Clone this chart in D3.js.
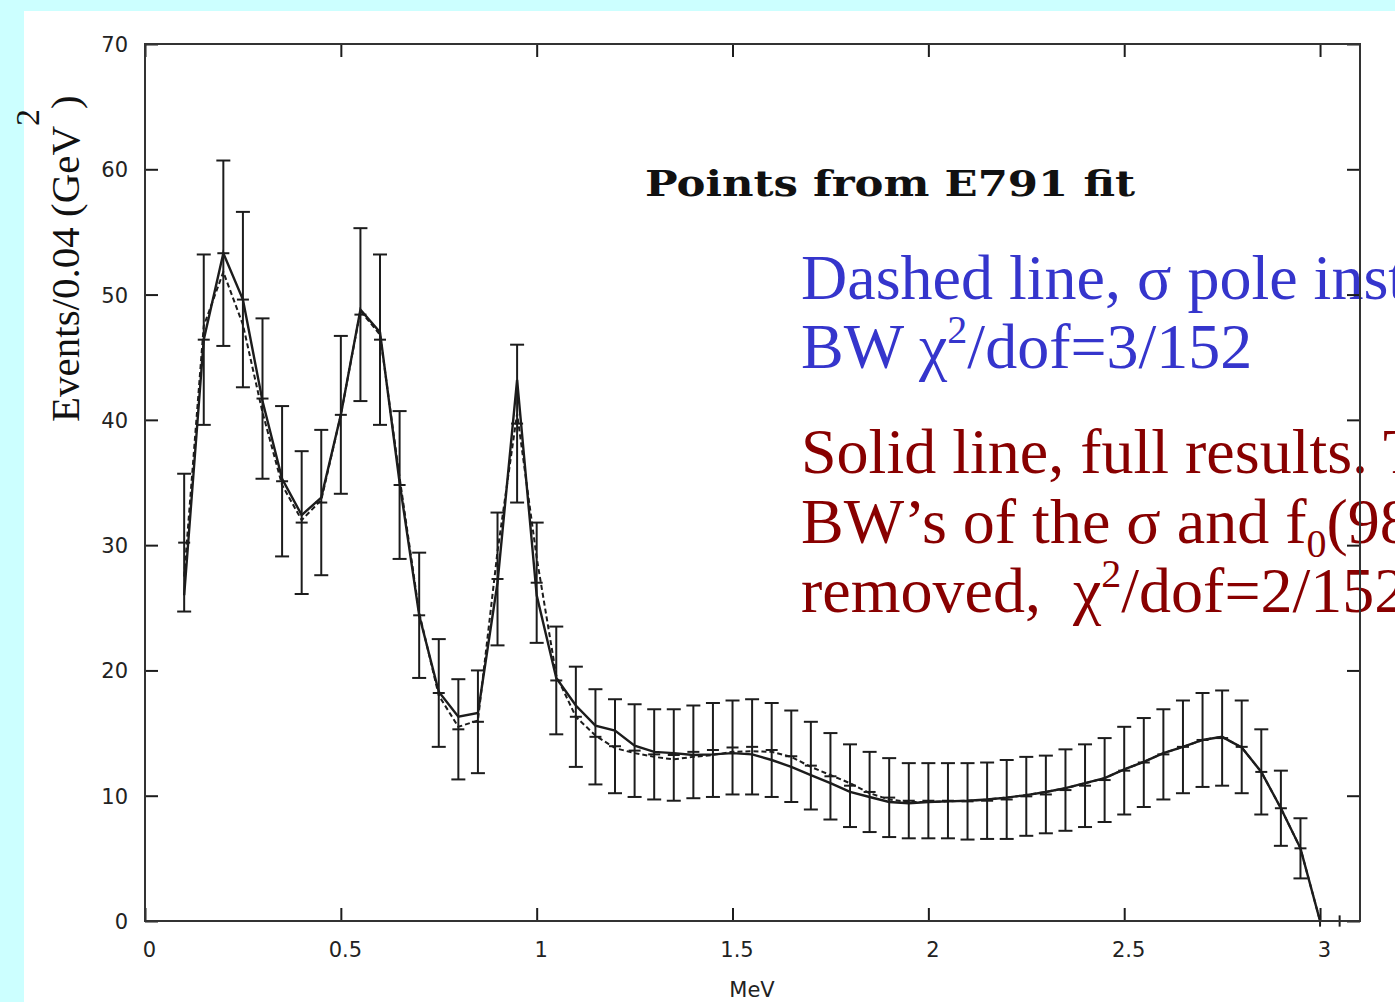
<!DOCTYPE html>
<html>
<head>
<meta charset="utf-8">
<script src="https://cdn.jsdelivr.net/npm/d3@7"></script>
<style>
  html, body { margin: 0; padding: 0; background: #ccffff; overflow: hidden; }
  svg { display: block; }
</style>
</head>
<body>
<svg id="chart" width="1395" height="1002"></svg>
<script>
// Bin centres (GeV^2 axis, labelled MeV on the slide)
const mass = [0.10, 0.15, 0.20, 0.25, 0.30, 0.35, 0.40, 0.45, 0.50, 0.55,
              0.60, 0.65, 0.70, 0.75, 0.80, 0.85, 0.90, 0.95, 1.00, 1.05,
              1.10, 1.15, 1.20, 1.25, 1.30, 1.35, 1.40, 1.45, 1.50, 1.55,
              1.60, 1.65, 1.70, 1.75, 1.80, 1.85, 1.90, 1.95, 2.00, 2.05,
              2.10, 2.15, 2.20, 2.25, 2.30, 2.35, 2.40, 2.45, 2.50, 2.55,
              2.60, 2.65, 2.70, 2.75, 2.80, 2.85, 2.90, 2.95, 3.00, 3.05];

// Generated points and their statistical errors
const events = [30.2, 46.4, 53.3, 49.6, 41.7, 35.1, 31.8, 33.4, 40.4, 48.4,
                46.4, 34.8, 24.4, 18.2, 15.3, 15.9, 27.3, 39.7, 27.0, 19.2,
                16.3, 14.7, 13.95, 13.6, 13.3, 13.25, 13.5, 13.65, 13.85, 13.9,
                13.65, 13.15, 12.4, 11.55, 10.8, 10.3, 9.85, 9.6, 9.6, 9.6,
                9.55, 9.6, 9.7, 9.95, 10.1, 10.45, 10.8, 11.25, 12.0, 12.65,
                13.3, 13.9, 14.45, 14.6, 13.9, 11.9, 9.0, 5.8, 0, 0];
const errors = [5.5, 6.8, 7.4, 7.0, 6.4, 6.0, 5.7, 5.8, 6.3, 6.9,
                6.8, 5.9, 5.0, 4.3, 4.0, 4.1, 5.3, 6.3, 4.8, 4.3,
                4.0, 3.8, 3.75, 3.7, 3.6, 3.65, 3.7, 3.75, 3.75, 3.8,
                3.75, 3.65, 3.5, 3.45, 3.3, 3.2, 3.15, 3.0, 3.0, 3.0,
                3.05, 3.05, 3.15, 3.15, 3.1, 3.25, 3.3, 3.35, 3.5, 3.55,
                3.6, 3.7, 3.75, 3.8, 3.7, 3.4, 3.0, 2.4, 0.45, 0.45];

// Fit curves, evaluated on the same bin centres up to 3.00
const curveMass = mass.slice(0, 59);
const solidFit = [26.0, 46.4, 53.3, 49.6, 41.5, 35.3, 32.4, 33.8, 40.4, 48.8,
                  47.0, 35.0, 24.4, 18.3, 16.3, 16.6, 27.0, 43.2, 26.0, 19.4,
                  17.2, 15.6, 15.2, 14.0, 13.5, 13.4, 13.25, 13.3, 13.4, 13.3,
                  12.85, 12.3, 11.65, 11.0, 10.3, 9.9, 9.5, 9.4, 9.5, 9.55,
                  9.6, 9.7, 9.85, 10.05, 10.3, 10.6, 11.0, 11.4, 12.1, 12.7,
                  13.4, 13.9, 14.45, 14.7, 13.85, 11.9, 9.0, 5.8, 0];
const dashedFit = [27.5, 47.5, 51.8, 47.6, 40.6, 34.8, 32.0, 33.6, 40.4, 48.7,
                   46.8, 35.4, 24.6, 18.0, 15.5, 16.0, 29.5, 40.5, 29.0, 19.6,
                   16.3, 14.8, 13.8, 13.4, 13.1, 12.9, 13.1, 13.25, 13.5, 13.55,
                   13.5, 13.1, 12.3, 11.65, 11.0, 10.2, 9.7, 9.5, 9.5, 9.55,
                   9.6, 9.7, 9.85, 10.05, 10.3, 10.6, 11.0, 11.4, 12.1, 12.7,
                   13.4, 13.9, 14.45, 14.7, 13.85, 11.9, 9.0, 5.8, 0];

// Axis ticks
const xTicks = [0, 0.5, 1, 1.5, 2, 2.5, 3];
const xTickLabels = ["0", "0.5", "1", "1.5", "2", "2.5", "3"];
const yTicks = [0, 10, 20, 30, 40, 50, 60, 70];

const svg = d3.select("#chart");

// slide background: cyan border, white page
svg.append("rect").attr("x", 0).attr("y", 0).attr("width", 1395).attr("height", 1002).attr("fill", "#ccffff");
svg.append("rect").attr("x", 24).attr("y", 11).attr("width", 1371).attr("height", 991).attr("fill", "#ffffff");

const plotL = 145, plotR = 1360, plotT = 44, plotB = 921;
const x = d3.scaleLinear().domain([0, 3.102]).range([plotL, plotR]);
const y = d3.scaleLinear().domain([0, 70]).range([plotB, plotT]);

const ink = "#1c1c1c";
const plot = svg.append("g");

// error bars with caps and a centre tick
const pts = mass.map((m, i) => ({ m, v: events[i], e: errors[i] }));
const capW = 7;
const eb = plot.append("g").attr("stroke", ink).attr("stroke-width", 2).attr("fill", "none");
pts.forEach(d => {
  const cx = x(d.m);
  eb.append("line").attr("x1", cx).attr("x2", cx).attr("y1", y(d.v - d.e)).attr("y2", y(d.v + d.e));
  if (d.e >= 1) {
    eb.append("line").attr("x1", cx - capW).attr("x2", cx + capW).attr("y1", y(d.v + d.e)).attr("y2", y(d.v + d.e));
    eb.append("line").attr("x1", cx - capW).attr("x2", cx + capW).attr("y1", y(d.v - d.e)).attr("y2", y(d.v - d.e));
    eb.append("line").attr("x1", cx - 6).attr("x2", cx + 6).attr("y1", y(d.v)).attr("y2", y(d.v));
  }
});

const line = d3.line().x(d => x(d[0])).y(d => y(d[1]));
plot.append("path")
  .datum(curveMass.map((m, i) => [m, dashedFit[i]]))
  .attr("d", line).attr("fill", "none").attr("stroke", ink)
  .attr("stroke-width", 2).attr("stroke-dasharray", "5,3");
plot.append("path")
  .datum(curveMass.map((m, i) => [m, solidFit[i]]))
  .attr("d", line).attr("fill", "none").attr("stroke", ink)
  .attr("stroke-width", 2.4);

// annotation texts
svg.append("text")
  .attr("x", 645).attr("y", 196)
  .attr("font-family", "DejaVu Serif").attr("font-weight", "bold").attr("font-size", 35)
  .attr("textLength", 490).attr("lengthAdjust", "spacingAndGlyphs")
  .attr("fill", "#111").text("Points from E791 fit");

const serif = "'Liberation Serif', 'Times New Roman', serif";
const blue = "#3535cc", red = "#880000";
const note = svg.append("g").attr("font-family", serif).attr("font-size", 64);

note.append("text").attr("x", 801).attr("y", 299).attr("fill", blue)
  .text("Dashed line, σ pole instead of");
const b2 = note.append("text").attr("x", 801).attr("y", 368).attr("fill", blue);
b2.append("tspan").text("BW χ");
b2.append("tspan").attr("dy", -25).attr("font-size", 40).text("2");
b2.append("tspan").attr("dy", 25).text("/dof=3/152");

note.append("text").attr("x", 801).attr("y", 473).attr("fill", red)
  .text("Solid line, full results. The");
const r2 = note.append("text").attr("x", 801).attr("y", 543).attr("fill", red);
r2.append("tspan").text("BW’s of the σ and f");
r2.append("tspan").attr("dy", 14).attr("font-size", 40).text("0");
r2.append("tspan").attr("dy", -14).text("(980)");
const r3 = note.append("text").attr("x", 801).attr("y", 612).attr("fill", red)
  .attr("xml:space", "preserve");
r3.append("tspan").text("removed,  χ");
r3.append("tspan").attr("dy", -25).attr("font-size", 40).text("2");
r3.append("tspan").attr("dy", 25).text("/dof=2/152");

// axes: ticks point inward on all four sides
const axisFont = "'DejaVu Sans', Verdana, sans-serif";
const gB = svg.append("g").attr("transform", `translate(0,${plotB})`)
  .call(d3.axisBottom(x).tickValues(xTicks).tickFormat((d, i) => xTickLabels[i])
        .tickSizeInner(-13).tickSizeOuter(0).tickPadding(21));
const gT = svg.append("g").attr("transform", `translate(0,${plotT})`)
  .call(d3.axisTop(x).tickValues(xTicks).tickFormat("").tickSizeInner(-13).tickSizeOuter(0));
const gL = svg.append("g").attr("transform", `translate(${plotL},0)`)
  .call(d3.axisLeft(y).tickValues(yTicks).tickSizeInner(-13).tickSizeOuter(0).tickPadding(17));
const gR = svg.append("g").attr("transform", `translate(${plotR},0)`)
  .call(d3.axisRight(y).tickValues(yTicks).tickFormat("").tickSizeInner(-13).tickSizeOuter(0));

[gB, gT, gL, gR].forEach(g => {
  g.select(".domain").remove();
  g.selectAll(".tick line").attr("stroke", ink).attr("stroke-width", 2);
  g.selectAll("text").attr("font-family", axisFont).attr("font-size", 21).attr("fill", "#222");
});
gB.selectAll(".tick text").attr("dx", 4);
gL.selectAll(".tick text").attr("dy", "0.36em");

// frame
svg.append("rect").attr("x", plotL).attr("y", plotT)
  .attr("width", plotR - plotL).attr("height", plotB - plotT)
  .attr("fill", "none").attr("stroke", "#333").attr("stroke-width", 2);

// axis titles
svg.append("text").attr("x", 752).attr("y", 997).attr("text-anchor", "middle")
  .attr("font-family", axisFont).attr("font-size", 21).attr("fill", "#222").text("MeV");

const yt = svg.append("text").attr("transform", "translate(79,422) rotate(-90)")
  .attr("font-family", serif).attr("font-size", 41).attr("fill", "#111");
yt.append("tspan").text("Events/0.04 (GeV");
yt.append("tspan").attr("dy", -40).attr("font-size", 34).text("2");
yt.append("tspan").attr("dy", 40).text(")");
</script>
</body>
</html>
